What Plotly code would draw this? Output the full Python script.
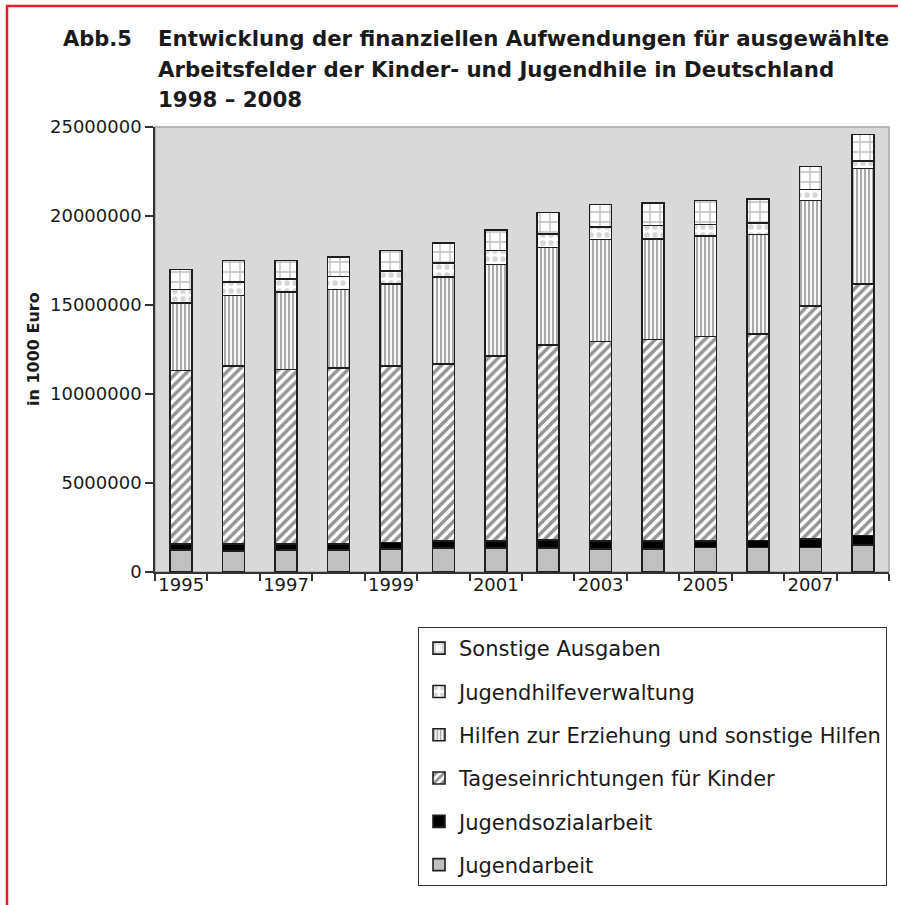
import plotly.graph_objects as go

# ---------------- data (in 1000 Euro) ----------------
years = [1995, 1996, 1997, 1998, 1999, 2000, 2001, 2002, 2003, 2004, 2005, 2006, 2007, 2008]
jugendarbeit = [1230000, 1190000, 1230000, 1230000, 1300000, 1360000, 1360000,
                1360000, 1290000, 1290000, 1380000, 1380000, 1380000, 1510000]
jugendsozialarbeit = [340000, 380000, 340000, 340000, 360000, 380000, 380000,
                      450000, 450000, 450000, 360000, 400000, 470000, 530000]
tageseinrichtungen = [9750000, 10010000, 9800000, 9880000, 9900000, 9950000, 10410000,
                      10950000, 11220000, 11320000, 11490000, 11600000, 13100000, 14150000]
hilfen_erziehung = [3780000, 3950000, 4350000, 4420000, 4610000, 4900000, 5120000,
                    5460000, 5710000, 5660000, 5640000, 5590000, 5930000, 6470000]
jugendhilfeverwaltung = [770000, 770000, 750000, 730000, 750000, 780000, 800000,
                         780000, 710000, 750000, 660000, 650000, 600000, 430000]
sonstige = [1130000, 1200000, 1030000, 1110000, 1150000, 1110000, 1160000,
            1190000, 1260000, 1260000, 1350000, 1350000, 1310000, 1500000]

series_names = ["Jugendarbeit", "Jugendsozialarbeit", "Tageseinrichtungen für Kinder",
                "Hilfen zur Erziehung und sonstige Hilfen", "Jugendhilfeverwaltung",
                "Sonstige Ausgaben"]
x_tick_labels = ["1995", "1997", "1999", "2001", "2003", "2005", "2007"]
y_ticks = [0, 5000000, 10000000, 15000000, 20000000, 25000000]
title_lines = ["Entwicklung der finanziellen Aufwendungen für ausgewählte",
               "Arbeitsfelder der Kinder- und Jugendhile in Deutschland",
               "1998 – 2008"]

# ---------------- layout geometry ----------------
W, H = 898, 905
L, R, T, B = 155, 9, 127, 333
PW, PH = W - L - R, H - T - B


def xp(px):
    return (px - L) / PW


def yp(py):
    return (H - B - py) / PH


LINE = "#1e1e1e"
styles = [
    dict(color="#c0c0c0"),
    dict(color="#000000"),
    dict(color="white", pattern=dict(shape="/", fgcolor="#2a2a2a", bgcolor="white",
                                     size=7, solidity=0.5, fillmode="overlay")),
    dict(color="white", pattern=dict(shape="|", fgcolor="#555555", bgcolor="white",
                                     size=4, solidity=0.55, fillmode="overlay")),
    dict(color="white", pattern=dict(shape=".", fgcolor="#b0b0b0", bgcolor="white",
                                     size=8, solidity=0.4, fillmode="overlay")),
    dict(color="white", pattern=dict(shape="+", fgcolor="#808080", bgcolor="white",
                                     size=10, solidity=0.25, fillmode="overlay")),
]
values = [jugendarbeit, jugendsozialarbeit, tageseinrichtungen, hilfen_erziehung,
          jugendhilfeverwaltung, sonstige]

fig = go.Figure()
for i, (name, vals, st) in enumerate(zip(series_names, values, styles)):
    fig.add_trace(go.Bar(
        x=years, y=vals, name=name, legendgroup=name, legendrank=100 - i,
        marker=dict(line=dict(color=LINE, width=1.6), **st),
    ))

FONT = "DejaVu Sans"
fig.update_layout(
    width=W, height=H,
    margin=dict(l=L, r=R, t=T, b=B, pad=0),
    paper_bgcolor="white",
    plot_bgcolor="#d9d9d9",
    barmode="stack",
    bargap=0.58,
    font=dict(family=FONT, color="#1a1a1a"),
    showlegend=True,
    legend=dict(
        x=xp(418), y=yp(627), xanchor="left", yanchor="top",
        traceorder="grouped", tracegroupgap=13,
        font=dict(family=FONT, size=21, color="#1a1a1a"),
        bgcolor="white", bordercolor="#333333", borderwidth=1,
    ),
    xaxis=dict(
        range=[1994.5, 2008.5], tickmode="array",
        tickvals=[int(t) for t in x_tick_labels], ticktext=x_tick_labels,
        ticks="", showgrid=False, zeroline=False, ticklabelstandoff=-4,
        showline=True, linecolor="#333333", linewidth=1.5,
        tickfont=dict(family=FONT, size=18, color="#1a1a1a"),
        minor=dict(tickmode="linear", tick0=1994.5, dtick=1, ticks="outside",
                   ticklen=7, tickwidth=1.5, tickcolor="#333333", showgrid=False),
    ),
    yaxis=dict(
        range=[0, 25000000], tickmode="array", tickvals=y_ticks, tickformat="d",
        ticks="outside", ticklen=8, tickwidth=1.5, tickcolor="#333333",
        showgrid=False, zeroline=False,
        showline=True, linecolor="#333333", linewidth=1.5,
        tickfont=dict(family=FONT, size=18, color="#1a1a1a"),
    ),
)

# plot-area frame (top/right)
fig.add_shape(type="rect", xref="paper", yref="paper", x0=0, y0=0, x1=1, y1=1,
              line=dict(color="#a6a6a6", width=1.5), layer="below")

# red page frame
fig.add_shape(type="path", xref="paper", yref="paper",
              path=f"M {xp(7)},{yp(910)} L {xp(7)},{yp(6)} L {xp(905)},{yp(6)}",
              line=dict(color="#e3202a", width=2.5))

# y-axis title
fig.add_annotation(text="<b>in 1000 Euro</b>", textangle=-90, xref="paper", yref="paper",
                   x=xp(33), y=yp(349), xanchor="center", yanchor="middle",
                   showarrow=False, font=dict(family=FONT, size=16, color="#1a1a1a"))

# title
fig.add_annotation(text="<b>Abb.5</b>", xref="paper", yref="paper",
                   x=xp(61), y=yp(39), xanchor="left", yanchor="middle",
                   showarrow=False, font=dict(family=FONT, size=21, color="#1a1a1a"))
for line, cy in zip(title_lines, [39, 69, 100]):
    fig.add_annotation(
        text=f"<b>{line}</b>", xref="paper", yref="paper", x=xp(156), y=yp(cy),
        xanchor="left", yanchor="middle", showarrow=False,
        font=dict(family=FONT, size=21.3, color="#1a1a1a"))

fig.write_html("out.html",
               config={"displayModeBar": False},
               post_script="document.body.style.margin='0px';"
                           "document.documentElement.style.overflow='hidden';"
                           "document.body.style.overflow='hidden';")
